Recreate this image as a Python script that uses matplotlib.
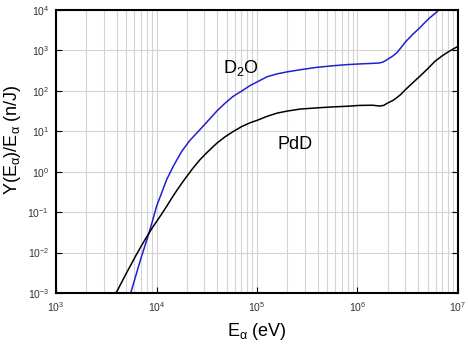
import numpy as np
import matplotlib
matplotlib.use("Agg")
import matplotlib.pyplot as plt
from matplotlib.ticker import LogLocator, NullFormatter

plt.rcParams['font.family'] = ['Liberation Sans', 'DejaVu Sans']
plt.rcParams['mathtext.fontset'] = 'custom'
plt.rcParams['mathtext.rm'] = 'Liberation Sans'
plt.rcParams['mathtext.it'] = 'Liberation Sans'
plt.rcParams['axes.unicode_minus'] = False

# log10(E) and log10(Y/E)
pdd_logE = [3.597, 3.65, 3.70, 3.75, 3.80, 3.85, 3.915, 3.96, 4.0, 4.05, 4.10, 4.15, 4.20,
            4.25, 4.30, 4.36, 4.43, 4.50, 4.60, 4.68, 4.76, 4.85, 4.93, 5.0, 5.10, 5.20,
            5.30, 5.43, 5.60, 5.73, 5.90, 6.02, 6.15, 6.22, 6.26, 6.30, 6.35, 6.39, 6.43,
            6.477, 6.55, 6.62, 6.70, 6.77, 6.85, 6.92, 6.97, 7.0]
pdd_logY = [-3.0, -2.75, -2.51, -2.28, -2.05, -1.83, -1.56, -1.38, -1.235, -1.05, -0.86,
            -0.66, -0.47, -0.29, -0.12, 0.08, 0.29, 0.47, 0.705, 0.86, 0.99, 1.12, 1.21,
            1.27, 1.37, 1.45, 1.50, 1.55, 1.58, 1.60, 1.62, 1.64, 1.645, 1.625, 1.64, 1.70,
            1.76, 1.83, 1.91, 2.03, 2.20, 2.36, 2.55, 2.73, 2.88, 2.99, 3.06, 3.10]

d2o_logE = [3.743, 3.80, 3.85, 3.92, 3.96, 4.0, 4.05, 4.10, 4.17, 4.25, 4.33, 4.43, 4.52,
            4.60, 4.68, 4.76, 4.85, 4.93, 5.0, 5.10, 5.20, 5.30, 5.45, 5.59, 5.75, 5.90,
            6.05, 6.15, 6.22, 6.26, 6.30, 6.35, 6.39, 6.43, 6.477, 6.55, 6.62, 6.67, 6.72,
            6.77, 6.81]
d2o_logY = [-3.0, -2.52, -2.10, -1.56, -1.22, -0.86, -0.53, -0.20, 0.15, 0.50, 0.77,
            1.035, 1.28, 1.50, 1.69, 1.86, 2.00, 2.13, 2.22, 2.35, 2.42, 2.47, 2.53, 2.58,
            2.62, 2.65, 2.67, 2.68, 2.69, 2.72, 2.78, 2.86, 2.94, 3.06, 3.21, 3.40, 3.56,
            3.69, 3.81, 3.91, 4.0]

E_pdd = 10 ** np.array(pdd_logE)
Y_pdd = 10 ** np.array(pdd_logY)
E_d2o = 10 ** np.array(d2o_logE)
Y_d2o = 10 ** np.array(d2o_logY)

fig = plt.figure(figsize=(4.68, 3.55), dpi=100)
ax = fig.add_axes([0.1197, 0.1746, 0.8589, 0.7972])

ax.plot(E_d2o, Y_d2o, color='#2020d0', lw=1.1)
ax.plot(E_pdd, Y_pdd, color='black', lw=1.1)

ax.set_xscale('log')
ax.set_yscale('log')
ax.set_xlim(1e3, 1e7)
ax.set_ylim(1e-3, 1e4)

ax.xaxis.set_major_locator(LogLocator(base=10, numticks=10))
ax.xaxis.set_minor_locator(LogLocator(base=10, subs=np.arange(2, 10), numticks=20))
ax.xaxis.set_minor_formatter(NullFormatter())
ax.yaxis.set_major_locator(LogLocator(base=10, numticks=12))
ax.yaxis.set_minor_locator(LogLocator(base=10, subs=[], numticks=12))

ax.grid(True, which='major', color='#d4d4d4', lw=0.8)
ax.grid(True, which='minor', axis='x', color='#d4d4d4', lw=0.8)
ax.set_axisbelow(True)

ax.tick_params(which='major', direction='in', length=4, width=0.8,
               top=False, right=True, labelsize=7.5, labelcolor='#333333', pad=5)
ax.tick_params(which='minor', length=0)
for s in ax.spines.values():
    s.set_linewidth(1.5)

fig.text(257 / 468, 1 - 332 / 355, r'$\mathregular{E_{α}}$ (eV)', fontsize=13,
         ha='center', va='center')
fig.text(13 / 468, 1 - 140 / 355, r'$\mathregular{Y(E_{α})/E_{α}}$ (n/J)', fontsize=13,
         ha='center', va='center', rotation=90)

ax.text(4.56e4, 2.84e2, r'$\mathregular{D_2O}$', fontsize=13, ha='left', va='baseline')
ax.text(1.59e5, 3.6, 'PdD', fontsize=13, ha='left', va='baseline')

fig.savefig('out.png', dpi=100)
